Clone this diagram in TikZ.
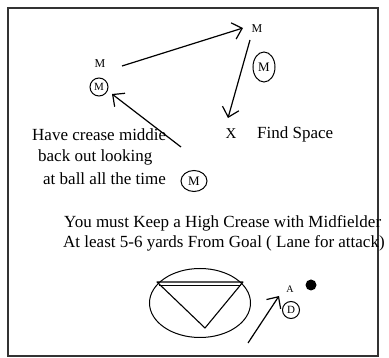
\documentclass[tikz,border=0pt]{standalone}
\usepackage{fontspec}
\setmainfont{Liberation Serif}
\usetikzlibrary{arrows.meta,shapes.geometric}
\begin{document}
\begin{tikzpicture}[x=1pt,y=-1pt,
  txt/.style={inner sep=0pt,font=\fontsize{17}{20}\selectfont},
  small/.style={inner sep=0pt,font=\fontsize{12}{14}\selectfont},
  circ/.style={draw,circle,line width=1pt,inner sep=0pt,minimum size=#1},
  ell/.style={draw,ellipse,line width=1pt,inner sep=0pt},
  arr/.style={line width=1.2pt,-{Straight Barb[length=9pt,width=17pt,line width=1.2pt]}},
  thin/.style={line width=1.1pt}]
\useasboundingbox (0,0) rectangle (389,358);
\draw[line width=1.4pt,black!80] (8,8) rectangle (378,356);
% top-left midfielder
\node[small] (m1) at (100,64) {M};
\node[circ=18pt,font=\fontsize{11}{12}\selectfont] (n1) at (99,87) {M};
% top-right midfielder
\node[small] (m2) at (257,29) {M};
\node[ell,minimum width=22pt,minimum height=30pt,font=\fontsize{13}{14}\selectfont] (m3) at (264,67) {M};
\node[inner sep=0pt,font=\fontsize{15}{16}\selectfont] (x) at (231,134) {X};
\node[txt,anchor=west] (fs) at (257,134) {Find Space};
% arrows
\coordinate (a1s) at (122,66);
\coordinate (a1e) at (243,28);
\draw[arr] (a1s) -- (a1e);
\coordinate (a2s) at (250,40);
\coordinate (a2e) at (228,118);
\draw[arr] (a2s) -- (a2e);
\coordinate (a3s) at (181,147);
\coordinate (a3e) at (112,94);
\draw[arr] (a3s) -- (a3e);
% note
\node[txt,anchor=west] (l1) at (32,135) {Have crease middie};
\node[txt,anchor=west] (l2) at (38,157) {back out looking};
\node[txt,anchor=west] (l3) at (43,179) {at ball all the time};
\node[ell,minimum width=26pt,minimum height=21pt,font=\fontsize{13}{14}\selectfont] (m4) at (194,181) {M};
% instruction
\node[txt,anchor=west] (t1) at (64,223) {You must Keep a High Crease with Midfielder};
\node[txt,anchor=west] (t2) at (63,243) {At least 5-6 yards From Goal ( Lane for attack)};
% goal
\node[ell,minimum width=101pt,minimum height=69pt] (goal) at (200,303) {};
\coordinate (g1) at (157,282);
\coordinate (g2) at (243,282);
\coordinate (g3) at (205,328);
\draw[thin,line join=round] (g1) -- (g2) -- (g3) -- cycle;
\coordinate (g4) at (159,285);
\coordinate (g5) at (241,285);
\draw[line width=0.8pt] (g4) -- (g5);
% attacker and defender
\node[inner sep=0pt,font=\fontsize{10}{11}\selectfont] (a) at (290,289) {A};
\node[circle,fill=black,minimum size=11pt,inner sep=0pt] (ball) at (311,285) {};
\node[circ=17pt,font=\fontsize{11}{12}\selectfont] (d) at (291,310) {D};
\coordinate (a4s) at (248,343);
\coordinate (a4e) at (279,296);
\draw[arr] (a4s) -- (a4e);
\end{tikzpicture}
\end{document}
